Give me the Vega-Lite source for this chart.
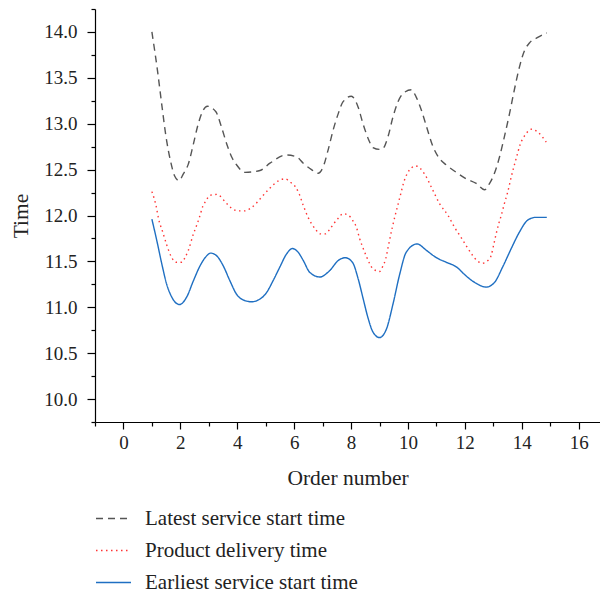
{
  "$schema": "https://vega.github.io/schema/vega-lite/v6.json",
  "autosize": {"type": "none"},
  "padding": {"left": 95, "top": 9, "right": 0, "bottom": 175},
  "width": 505,
  "height": 413,
  "config": {
    "font": "Liberation Serif",
    "view": {"stroke": null},
    "axis": {"grid": false, "domainColor": "#000", "tickColor": "#000", "labelColor": "#222", "titleColor": "#222", "labelFont": "Liberation Serif", "titleFont": "Liberation Serif", "labelFontSize": 19, "titleFontSize": 21.5, "titleFontWeight": "normal", "domainWidth": 1.2, "tickWidth": 1.2},
    "legend": {"labelFont": "Liberation Serif", "labelFontSize": 21, "labelColor": "#222", "labelLimit": 0}
  },
  "data": {"values": [
    {"s":"Latest service start time","x":1.0,"y":14.0},
    {"s":"Latest service start time","x":1.2,"y":13.57},
    {"s":"Latest service start time","x":1.35,"y":13.2},
    {"s":"Latest service start time","x":1.5,"y":12.85},
    {"s":"Latest service start time","x":1.65,"y":12.6},
    {"s":"Latest service start time","x":1.8,"y":12.43},
    {"s":"Latest service start time","x":1.95,"y":12.38},
    {"s":"Latest service start time","x":2.1,"y":12.45},
    {"s":"Latest service start time","x":2.28,"y":12.56},
    {"s":"Latest service start time","x":2.46,"y":12.78},
    {"s":"Latest service start time","x":2.63,"y":13.0},
    {"s":"Latest service start time","x":2.81,"y":13.15},
    {"s":"Latest service start time","x":2.95,"y":13.19},
    {"s":"Latest service start time","x":3.25,"y":13.13},
    {"s":"Latest service start time","x":3.45,"y":12.96},
    {"s":"Latest service start time","x":3.63,"y":12.78},
    {"s":"Latest service start time","x":3.8,"y":12.64},
    {"s":"Latest service start time","x":3.98,"y":12.55},
    {"s":"Latest service start time","x":4.27,"y":12.47},
    {"s":"Latest service start time","x":4.8,"y":12.49},
    {"s":"Latest service start time","x":5.15,"y":12.57},
    {"s":"Latest service start time","x":5.73,"y":12.66},
    {"s":"Latest service start time","x":6.08,"y":12.64},
    {"s":"Latest service start time","x":6.32,"y":12.57},
    {"s":"Latest service start time","x":6.61,"y":12.5},
    {"s":"Latest service start time","x":6.84,"y":12.46},
    {"s":"Latest service start time","x":7.02,"y":12.53},
    {"s":"Latest service start time","x":7.19,"y":12.71},
    {"s":"Latest service start time","x":7.37,"y":12.93},
    {"s":"Latest service start time","x":7.55,"y":13.11},
    {"s":"Latest service start time","x":7.72,"y":13.24},
    {"s":"Latest service start time","x":8.01,"y":13.3},
    {"s":"Latest service start time","x":8.25,"y":13.18},
    {"s":"Latest service start time","x":8.42,"y":13.0},
    {"s":"Latest service start time","x":8.6,"y":12.84},
    {"s":"Latest service start time","x":8.77,"y":12.74},
    {"s":"Latest service start time","x":9.0,"y":12.72},
    {"s":"Latest service start time","x":9.12,"y":12.73},
    {"s":"Latest service start time","x":9.3,"y":12.86},
    {"s":"Latest service start time","x":9.47,"y":13.07},
    {"s":"Latest service start time","x":9.65,"y":13.24},
    {"s":"Latest service start time","x":9.83,"y":13.33},
    {"s":"Latest service start time","x":10.12,"y":13.37},
    {"s":"Latest service start time","x":10.29,"y":13.29},
    {"s":"Latest service start time","x":10.47,"y":13.15},
    {"s":"Latest service start time","x":10.65,"y":12.97},
    {"s":"Latest service start time","x":10.88,"y":12.75},
    {"s":"Latest service start time","x":11.11,"y":12.62},
    {"s":"Latest service start time","x":11.35,"y":12.55},
    {"s":"Latest service start time","x":11.7,"y":12.47},
    {"s":"Latest service start time","x":12.05,"y":12.4},
    {"s":"Latest service start time","x":12.4,"y":12.35},
    {"s":"Latest service start time","x":12.69,"y":12.28},
    {"s":"Latest service start time","x":12.87,"y":12.35},
    {"s":"Latest service start time","x":13.04,"y":12.46},
    {"s":"Latest service start time","x":13.22,"y":12.64},
    {"s":"Latest service start time","x":13.39,"y":12.86},
    {"s":"Latest service start time","x":13.57,"y":13.11},
    {"s":"Latest service start time","x":13.74,"y":13.37},
    {"s":"Latest service start time","x":13.92,"y":13.62},
    {"s":"Latest service start time","x":14.1,"y":13.8},
    {"s":"Latest service start time","x":14.27,"y":13.88},
    {"s":"Latest service start time","x":14.56,"y":13.94},
    {"s":"Latest service start time","x":14.88,"y":13.99},

    {"s":"Product delivery time","x":1.0,"y":12.26},
    {"s":"Product delivery time","x":1.15,"y":12.1},
    {"s":"Product delivery time","x":1.23,"y":11.97},
    {"s":"Product delivery time","x":1.38,"y":11.82},
    {"s":"Product delivery time","x":1.52,"y":11.68},
    {"s":"Product delivery time","x":1.7,"y":11.54},
    {"s":"Product delivery time","x":1.85,"y":11.49},
    {"s":"Product delivery time","x":2.05,"y":11.49},
    {"s":"Product delivery time","x":2.16,"y":11.54},
    {"s":"Product delivery time","x":2.28,"y":11.62},
    {"s":"Product delivery time","x":2.46,"y":11.8},
    {"s":"Product delivery time","x":2.57,"y":11.89},
    {"s":"Product delivery time","x":2.66,"y":11.97},
    {"s":"Product delivery time","x":2.79,"y":12.1},
    {"s":"Product delivery time","x":2.9,"y":12.16},
    {"s":"Product delivery time","x":3.04,"y":12.22},
    {"s":"Product delivery time","x":3.28,"y":12.23},
    {"s":"Product delivery time","x":3.63,"y":12.13},
    {"s":"Product delivery time","x":3.8,"y":12.08},
    {"s":"Product delivery time","x":4.04,"y":12.05},
    {"s":"Product delivery time","x":4.27,"y":12.05},
    {"s":"Product delivery time","x":4.47,"y":12.08},
    {"s":"Product delivery time","x":4.66,"y":12.13},
    {"s":"Product delivery time","x":4.8,"y":12.18},
    {"s":"Product delivery time","x":5.12,"y":12.29},
    {"s":"Product delivery time","x":5.46,"y":12.38},
    {"s":"Product delivery time","x":5.67,"y":12.4},
    {"s":"Product delivery time","x":5.88,"y":12.36},
    {"s":"Product delivery time","x":6.05,"y":12.31},
    {"s":"Product delivery time","x":6.17,"y":12.24},
    {"s":"Product delivery time","x":6.32,"y":12.11},
    {"s":"Product delivery time","x":6.49,"y":11.98},
    {"s":"Product delivery time","x":6.61,"y":11.91},
    {"s":"Product delivery time","x":6.75,"y":11.85},
    {"s":"Product delivery time","x":6.9,"y":11.8},
    {"s":"Product delivery time","x":7.1,"y":11.8},
    {"s":"Product delivery time","x":7.25,"y":11.85},
    {"s":"Product delivery time","x":7.39,"y":11.91},
    {"s":"Product delivery time","x":7.55,"y":11.97},
    {"s":"Product delivery time","x":7.72,"y":12.02},
    {"s":"Product delivery time","x":7.92,"y":12.0},
    {"s":"Product delivery time","x":8.05,"y":11.95},
    {"s":"Product delivery time","x":8.19,"y":11.87},
    {"s":"Product delivery time","x":8.3,"y":11.75},
    {"s":"Product delivery time","x":8.48,"y":11.6},
    {"s":"Product delivery time","x":8.56,"y":11.54},
    {"s":"Product delivery time","x":8.77,"y":11.42},
    {"s":"Product delivery time","x":9.0,"y":11.39},
    {"s":"Product delivery time","x":9.12,"y":11.45},
    {"s":"Product delivery time","x":9.22,"y":11.53},
    {"s":"Product delivery time","x":9.3,"y":11.65},
    {"s":"Product delivery time","x":9.45,"y":11.87},
    {"s":"Product delivery time","x":9.55,"y":12.0},
    {"s":"Product delivery time","x":9.65,"y":12.12},
    {"s":"Product delivery time","x":9.75,"y":12.24},
    {"s":"Product delivery time","x":9.85,"y":12.36},
    {"s":"Product delivery time","x":9.98,"y":12.46},
    {"s":"Product delivery time","x":10.27,"y":12.54},
    {"s":"Product delivery time","x":10.59,"y":12.45},
    {"s":"Product delivery time","x":10.82,"y":12.31},
    {"s":"Product delivery time","x":11.11,"y":12.13},
    {"s":"Product delivery time","x":11.41,"y":12.0},
    {"s":"Product delivery time","x":11.64,"y":11.87},
    {"s":"Product delivery time","x":11.87,"y":11.76},
    {"s":"Product delivery time","x":12.05,"y":11.67},
    {"s":"Product delivery time","x":12.26,"y":11.57},
    {"s":"Product delivery time","x":12.46,"y":11.5},
    {"s":"Product delivery time","x":12.61,"y":11.48},
    {"s":"Product delivery time","x":12.81,"y":11.51},
    {"s":"Product delivery time","x":12.93,"y":11.57},
    {"s":"Product delivery time","x":13.02,"y":11.69},
    {"s":"Product delivery time","x":13.1,"y":11.8},
    {"s":"Product delivery time","x":13.19,"y":11.91},
    {"s":"Product delivery time","x":13.28,"y":12.0},
    {"s":"Product delivery time","x":13.38,"y":12.12},
    {"s":"Product delivery time","x":13.51,"y":12.26},
    {"s":"Product delivery time","x":13.63,"y":12.42},
    {"s":"Product delivery time","x":13.74,"y":12.55},
    {"s":"Product delivery time","x":13.82,"y":12.64},
    {"s":"Product delivery time","x":13.94,"y":12.77},
    {"s":"Product delivery time","x":14.15,"y":12.89},
    {"s":"Product delivery time","x":14.33,"y":12.94},
    {"s":"Product delivery time","x":14.56,"y":12.91},
    {"s":"Product delivery time","x":14.86,"y":12.8},

    {"s":"Earliest service start time","x":1.0,"y":11.96},
    {"s":"Earliest service start time","x":1.17,"y":11.73},
    {"s":"Earliest service start time","x":1.35,"y":11.47},
    {"s":"Earliest service start time","x":1.52,"y":11.25},
    {"s":"Earliest service start time","x":1.7,"y":11.11},
    {"s":"Earliest service start time","x":1.97,"y":11.03},
    {"s":"Earliest service start time","x":2.22,"y":11.11},
    {"s":"Earliest service start time","x":2.46,"y":11.29},
    {"s":"Earliest service start time","x":2.69,"y":11.45},
    {"s":"Earliest service start time","x":2.87,"y":11.54},
    {"s":"Earliest service start time","x":3.07,"y":11.59},
    {"s":"Earliest service start time","x":3.28,"y":11.56},
    {"s":"Earliest service start time","x":3.51,"y":11.45},
    {"s":"Earliest service start time","x":3.74,"y":11.29},
    {"s":"Earliest service start time","x":3.98,"y":11.14},
    {"s":"Earliest service start time","x":4.21,"y":11.08},
    {"s":"Earliest service start time","x":4.5,"y":11.06},
    {"s":"Earliest service start time","x":4.8,"y":11.09},
    {"s":"Earliest service start time","x":5.03,"y":11.16},
    {"s":"Earliest service start time","x":5.26,"y":11.29},
    {"s":"Earliest service start time","x":5.5,"y":11.44},
    {"s":"Earliest service start time","x":5.73,"y":11.58},
    {"s":"Earliest service start time","x":5.94,"y":11.64},
    {"s":"Earliest service start time","x":6.14,"y":11.6},
    {"s":"Earliest service start time","x":6.32,"y":11.51},
    {"s":"Earliest service start time","x":6.55,"y":11.38},
    {"s":"Earliest service start time","x":6.9,"y":11.33},
    {"s":"Earliest service start time","x":7.25,"y":11.4},
    {"s":"Earliest service start time","x":7.55,"y":11.51},
    {"s":"Earliest service start time","x":7.8,"y":11.54},
    {"s":"Earliest service start time","x":8.05,"y":11.49},
    {"s":"Earliest service start time","x":8.25,"y":11.31},
    {"s":"Earliest service start time","x":8.42,"y":11.1},
    {"s":"Earliest service start time","x":8.6,"y":10.88},
    {"s":"Earliest service start time","x":8.77,"y":10.73},
    {"s":"Earliest service start time","x":9.0,"y":10.67},
    {"s":"Earliest service start time","x":9.24,"y":10.76},
    {"s":"Earliest service start time","x":9.47,"y":11.03},
    {"s":"Earliest service start time","x":9.71,"y":11.36},
    {"s":"Earliest service start time","x":9.94,"y":11.6},
    {"s":"Earliest service start time","x":10.32,"y":11.69},
    {"s":"Earliest service start time","x":10.65,"y":11.62},
    {"s":"Earliest service start time","x":11.0,"y":11.54},
    {"s":"Earliest service start time","x":11.35,"y":11.49},
    {"s":"Earliest service start time","x":11.7,"y":11.44},
    {"s":"Earliest service start time","x":12.05,"y":11.34},
    {"s":"Earliest service start time","x":12.4,"y":11.26},
    {"s":"Earliest service start time","x":12.75,"y":11.22},
    {"s":"Earliest service start time","x":13.04,"y":11.27},
    {"s":"Earliest service start time","x":13.33,"y":11.44},
    {"s":"Earliest service start time","x":13.63,"y":11.64},
    {"s":"Earliest service start time","x":13.92,"y":11.82},
    {"s":"Earliest service start time","x":14.21,"y":11.95},
    {"s":"Earliest service start time","x":14.5,"y":11.98},
    {"s":"Earliest service start time","x":14.88,"y":11.98}
  ]},
  "mark": {"type": "line", "interpolate": "monotone", "strokeWidth": 1.4, "strokeCap": "butt"},
  "encoding": {
    "x": {
      "field": "x", "type": "quantitative",
      "scale": {"domain": [-1, 16.75], "nice": false, "zero": false},
      "axis": {
        "title": "Order number",
        "values": [-1,0,1,2,3,4,5,6,7,8,9,10,11,12,13,14,15,16],
        "labelExpr": "datum.value % 2 === 0 ? datum.label : ''",
        "tickSize": {"condition": {"test": "datum.value % 2 === 0", "value": 7}, "value": 4},
        "labelPadding": 4,
        "titlePadding": 15
      }
    },
    "y": {
      "field": "y", "type": "quantitative",
      "scale": {"domain": [9.75, 14.25], "nice": false, "zero": false},
      "axis": {
        "title": "Time",
        "values": [9.75,10,10.25,10.5,10.75,11,11.25,11.5,11.75,12,12.25,12.5,12.75,13,13.25,13.5,13.75,14,14.25],
        "labelExpr": "round(datum.value*4) % 2 === 0 ? format(datum.value, '.1f') : ''",
        "tickSize": {"condition": {"test": "round(datum.value*4) % 2 === 0", "value": 8}, "value": 4},
        "labelPadding": 10,
        "titlePadding": 11
      }
    },
    "color": {
      "field": "s", "type": "nominal",
      "scale": {"domain": ["Latest service start time", "Product delivery time", "Earliest service start time"], "range": ["#555555", "#ff3333", "#1f6fc2"]},
      "legend": {"title": null, "orient": "none", "legendX": 0, "legendY": 491, "symbolType": "stroke", "symbolSize": 1225, "symbolStrokeWidth": 1.4, "labelOffset": 13, "rowPadding": 3, "padding": 0, "labelLimit": 0}
    },
    "strokeDash": {
      "field": "s", "type": "nominal",
      "scale": {"domain": ["Latest service start time", "Product delivery time", "Earliest service start time"], "range": [[7, 5], [1.5, 3.5], [1, 0]]},
      "legend": {"title": null, "orient": "none", "legendX": 0, "legendY": 491, "symbolType": "stroke", "symbolSize": 1225, "symbolStrokeWidth": 1.4, "labelOffset": 13, "rowPadding": 3, "padding": 0, "labelLimit": 0}
    }
  }
}
